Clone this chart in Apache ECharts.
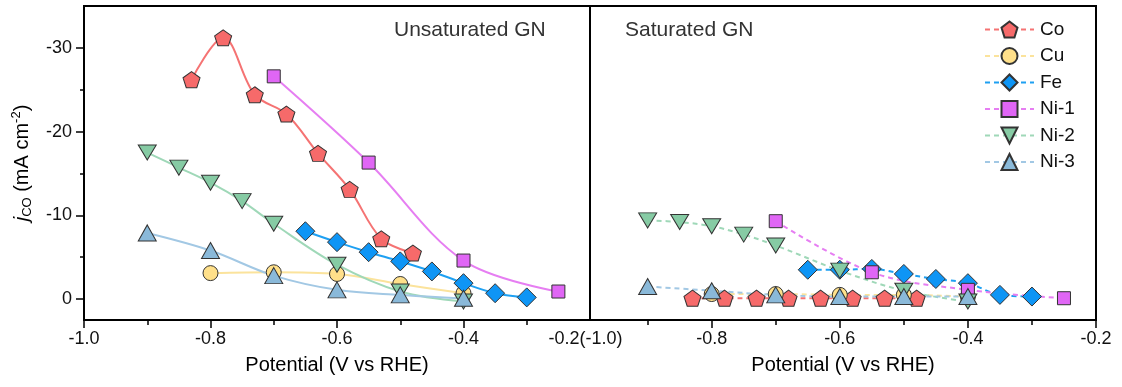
<!DOCTYPE html>
<html>
<head>
<meta charset="utf-8">
<script src="https://cdn.jsdelivr.net/npm/echarts@6/dist/echarts.min.js"></script>
<style>
html,body{margin:0;padding:0;background:#fff;}
#chart{width:1122px;height:387px;}
</style>
</head>
<body>
<div id="chart"></div>
<script>
var names = ['Co', 'Cu', 'Fe', 'Ni-1', 'Ni-2', 'Ni-3'];

// potentials (V vs RHE)
var coX  = [-0.83, -0.78, -0.73, -0.68, -0.63, -0.58, -0.53, -0.48];
var cuX  = [-0.8, -0.7, -0.6, -0.5, -0.4];
var feX  = [-0.65, -0.6, -0.55, -0.5, -0.45, -0.4, -0.35, -0.3];
var ni1X = [-0.7, -0.55, -0.4, -0.25];
var ni2X = [-0.9, -0.85, -0.8, -0.75, -0.7, -0.6, -0.5, -0.4];
var ni3X = [-0.9, -0.8, -0.7, -0.6, -0.5, -0.4];

// j_CO, unsaturated GN (mA cm-2)
var coU  = [-26.2, -31.2, -24.4, -22.1, -17.4, -13.1, -7.2, -5.5];
var cuU  = [-3.1, -3.2, -3.0, -1.8, -0.7];
var feU  = [-8.1, -6.8, -5.6, -4.5, -3.3, -1.9, -0.7, -0.2];
var ni1U = [-26.6, -16.3, -4.6, -0.9];
var ni2U = [-17.5, -15.7, -13.9, -11.7, -9.0, -4.1, -0.9, 0.3];
var ni3U = [-7.9, -5.8, -2.8, -1.1, -0.5, -0.1];

// j_CO, saturated GN (mA cm-2)
var coS  = [-0.1, -0.1, -0.1, -0.1, -0.1, -0.1, -0.1, -0.1];
var cuS  = [-0.6, -0.6, -0.5, -0.5, -0.3];
var feS  = [-3.5, -3.5, -3.6, -3.0, -2.4, -1.9, -0.5, -0.3];
var ni1S = [-9.3, -3.2, -1.1, -0.1];
var ni2S = [-9.4, -9.2, -8.7, -7.7, -6.4, -3.4, -1.0, 0.3];
var ni3S = [-1.5, -1.0, -0.5, -0.3, -0.3, -0.3];

// axis ticks
var xMajorL = [-1.0, -0.8, -0.6, -0.4];
var xLabelL = [-1.0, -0.8, -0.6, -0.4, -0.2];
var xMajorR = [-0.8, -0.6, -0.4, -0.2];
var xMinor  = [-0.9, -0.7, -0.5, -0.3];
var yMajor  = [-30, -20, -10, 0];
var yMinor  = [-25, -15, -5];

var FONT = 'Liberation Sans, Arial, sans-serif';

var xsBy = {'Co': coX, 'Cu': cuX, 'Fe': feX, 'Ni-1': ni1X, 'Ni-2': ni2X, 'Ni-3': ni3X};
var unsat = {'Co': coU, 'Cu': cuU, 'Fe': feU, 'Ni-1': ni1U, 'Ni-2': ni2U, 'Ni-3': ni3U};
var sat = {'Co': coS, 'Cu': cuS, 'Fe': feS, 'Ni-1': ni1S, 'Ni-2': ni2S, 'Ni-3': ni3S};

var look = {
    'Co':   {fill: '#f66a6a', line: '#f57373', symbol: 'path://M50,0 L97.55,34.55 L79.39,90.45 L20.61,90.45 L2.45,34.55 Z', size: [17, 16]},
    'Cu':   {fill: '#ffe08a', line: '#fbe39c', symbol: 'circle', size: 15},
    'Fe':   {fill: '#0e95f5', line: '#1ea0f2', symbol: 'diamond', size: 19},
    'Ni-1': {fill: '#e066f5', line: '#e67ef2', symbol: 'rect', size: 13},
    'Ni-2': {fill: '#86cba4', line: '#9fd8b8', symbol: 'path://M0,0 L10,0 L5,8.66 Z', size: [18, 15]},
    'Ni-3': {fill: '#8ab9d9', line: '#a2c8e4', symbol: 'triangle', size: [18, 16]}
};

function makeSeries(name, ys, panel) {
    var lk = look[name];
    var xs = xsBy[name];
    return {
        name: name,
        type: 'line',
        xAxisIndex: panel === 0 ? 0 : 2,
        yAxisIndex: panel === 0 ? 0 : 2,
        data: xs.map(function (x, i) { return [x, ys[i]]; }),
        symbol: lk.symbol,
        symbolSize: lk.size,
        smooth: 0.35,
        lineStyle: {color: lk.line, width: 2, type: panel === 0 ? 'solid' : [5, 4]},
        itemStyle: {color: lk.fill, borderColor: '#333', borderWidth: 1},
        emphasis: {disabled: true}
    };
}

var series = [];
// saturated (dashed) first so the legend shows dashed lines
names.forEach(function (n) { series.push(makeSeries(n, sat[n], 1)); });
names.forEach(function (n) { series.push(makeSeries(n, unsat[n], 0)); });

var tickLine = {color: '#000', width: 1.5};

var chart = echarts.init(document.getElementById('chart'));
var option = {
    animation: false,
    backgroundColor: '#fff',
    title: [
        {text: 'Unsaturated GN', left: 394, top: 20, padding: 0,
         textStyle: {fontFamily: FONT, fontSize: 21, fontWeight: 'normal', color: '#333'}},
        {text: 'Saturated GN', left: 625, top: 20, padding: 0,
         textStyle: {fontFamily: FONT, fontSize: 21, fontWeight: 'normal', color: '#333'}}
    ],
    legend: {
        data: names,
        orient: 'vertical',
        left: 984,
        top: 20,
        padding: 0,
        itemWidth: 49,
        itemHeight: 20,
        itemGap: 7.5,
        textStyle: {fontFamily: FONT, fontSize: 19, color: '#111', padding: [0, 0, 0, 1]}
    },
    grid: [
        {left: 84, top: 6, width: 506, height: 314, show: true, borderColor: '#000', borderWidth: 2, backgroundColor: 'transparent'},
        {left: 590, top: 6, width: 506, height: 314, show: true, borderColor: '#000', borderWidth: 2, backgroundColor: 'transparent'}
    ],
    xAxis: [
        {
            type: 'value', gridIndex: 0, min: -1.0, max: -0.2, position: 'bottom',
            name: 'Potential (V vs RHE)', nameLocation: 'middle', nameGap: 35,
            nameTextStyle: {fontFamily: FONT, fontSize: 20, color: '#000'},
            axisLine: {onZero: false, lineStyle: {color: '#000', width: 2}},
            axisTick: {customValues: xMajorL, length: 8, lineStyle: tickLine},
            axisLabel: {
                customValues: xLabelL, margin: 10,
                fontFamily: FONT, fontSize: 18, color: '#111',
                formatter: function (v) {
                    return Math.abs(v + 0.2) < 1e-6 ? '{s|-0.2(-1.0)}' : v.toFixed(1);
                },
                rich: {s: {fontFamily: FONT, fontSize: 18, color: '#111', padding: [0, 9, 0, 0]}}
            },
            splitLine: {show: false}
        },
        {
            type: 'value', gridIndex: 0, min: -1.0, max: -0.2, position: 'bottom',
            axisLine: {show: false, onZero: false},
            axisTick: {customValues: xMinor, length: 5, lineStyle: tickLine},
            axisLabel: {show: false},
            splitLine: {show: false}
        },
        {
            type: 'value', gridIndex: 1, min: -0.99, max: -0.2, position: 'bottom',
            name: 'Potential (V vs RHE)', nameLocation: 'middle', nameGap: 35,
            nameTextStyle: {fontFamily: FONT, fontSize: 20, color: '#000'},
            axisLine: {onZero: false, lineStyle: {color: '#000', width: 2}},
            axisTick: {customValues: xMajorR, length: 8, lineStyle: tickLine},
            axisLabel: {
                customValues: xMajorR, margin: 10,
                fontFamily: FONT, fontSize: 18, color: '#111',
                formatter: function (v) { return v.toFixed(1); }
            },
            splitLine: {show: false}
        },
        {
            type: 'value', gridIndex: 1, min: -0.99, max: -0.2, position: 'bottom',
            axisLine: {show: false, onZero: false},
            axisTick: {customValues: xMinor, length: 5, lineStyle: tickLine},
            axisLabel: {show: false},
            splitLine: {show: false}
        }
    ],
    yAxis: [
        {
            type: 'value', gridIndex: 0, inverse: true, min: -35, max: 2.5, position: 'left',
            name: '{i|j}{s|CO} (mA cm{p|-2})',
            nameLocation: 'middle', nameGap: 50, nameRotate: 90,
            nameTextStyle: {
                fontFamily: FONT, fontSize: 20, color: '#000', lineHeight: 24,
                rich: {
                    i: {fontFamily: FONT, fontSize: 20, fontStyle: 'italic', color: '#000', lineHeight: 24, verticalAlign: 'middle'},
                    s: {fontFamily: FONT, fontSize: 13, fontStyle: 'normal', color: '#000', lineHeight: 12, verticalAlign: 'bottom'},
                    p: {fontFamily: FONT, fontSize: 13, fontStyle: 'normal', color: '#000', lineHeight: 12, verticalAlign: 'top'}
                }
            },
            axisLine: {onZero: false, lineStyle: {color: '#000', width: 2}},
            axisTick: {customValues: yMajor, length: 8, lineStyle: tickLine},
            axisLabel: {
                customValues: yMajor, margin: 12,
                fontFamily: FONT, fontSize: 18, color: '#111'
            },
            splitLine: {show: false}
        },
        {
            type: 'value', gridIndex: 0, inverse: true, min: -35, max: 2.5, position: 'left',
            axisLine: {show: false, onZero: false},
            axisTick: {customValues: yMinor, length: 4, lineStyle: tickLine},
            axisLabel: {show: false},
            splitLine: {show: false}
        },
        {
            type: 'value', gridIndex: 1, inverse: true, min: -35, max: 2.5, position: 'left',
            axisLine: {onZero: false, lineStyle: {color: '#000', width: 2}},
            axisTick: {show: false},
            axisLabel: {show: false},
            splitLine: {show: false}
        }
    ],
    series: series
};
chart.setOption(option);
</script>
</body>
</html>
